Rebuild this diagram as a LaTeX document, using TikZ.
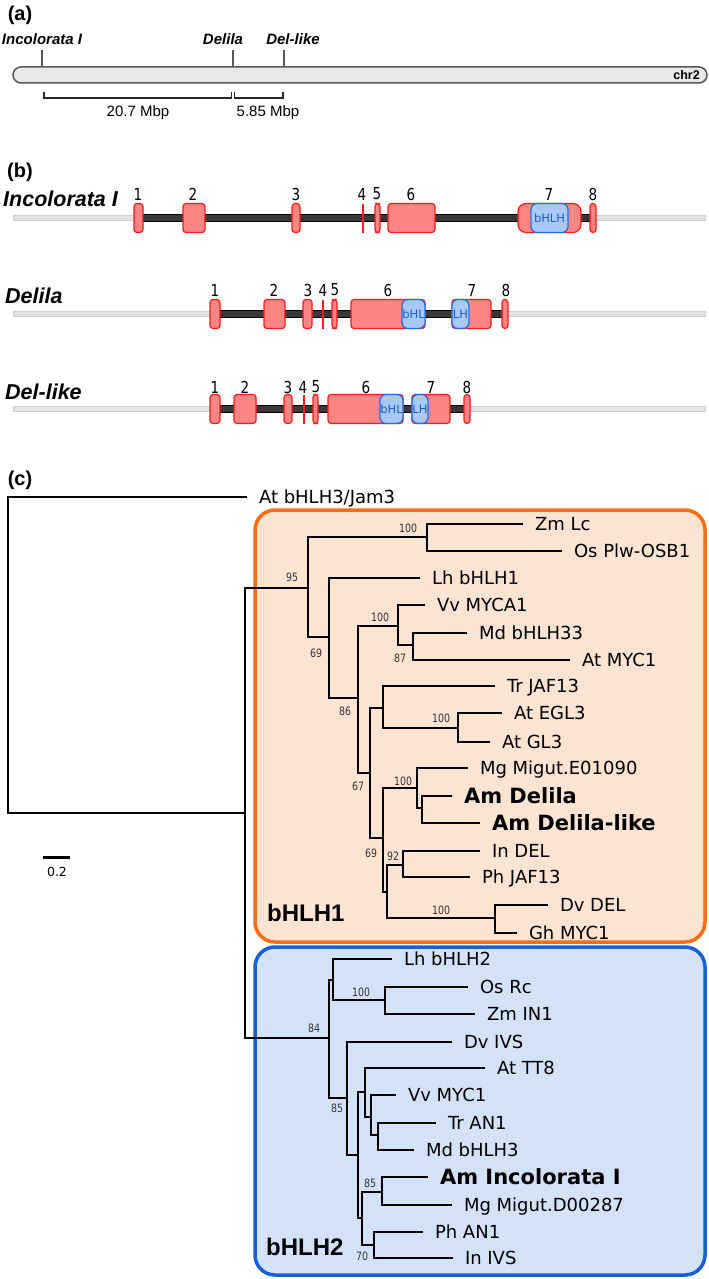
\documentclass[tikz,border=0pt]{standalone}
\usepackage{fontspec}
\setmainfont{DejaVu Sans}
\newfontfamily\arialfont{Liberation Sans}
\newfontfamily\numfont[FakeStretch=0.82]{DejaVu Sans}
\definecolor{exonfill}{HTML}{FF8585}
\definecolor{exonline}{HTML}{FF1A1A}
\definecolor{domfill}{HTML}{A8C8F7}
\definecolor{domline}{HTML}{1F6FE8}
\definecolor{orangeline}{HTML}{FF6B0F}
\definecolor{orangefill}{HTML}{FDE3D1}
\definecolor{blueline}{HTML}{1760D9}
\definecolor{bluefill}{HTML}{D3E2F9}

\begin{document}
\begin{tikzpicture}[x=1pt, y=-1pt,
      panel/.style={font=\arialfont\bfseries\fontsize{20}{22}\selectfont, inner sep=0pt},
      locus/.style={font=\arialfont\bfseries\itshape\fontsize{15}{17}\selectfont, inner sep=0pt},
      row/.style={anchor=west, font=\arialfont\bfseries\itshape\fontsize{21.5}{24}\selectfont, inner sep=0pt},
      mbp/.style={font=\arialfont\fontsize{15}{17}\selectfont, inner sep=0pt},
      num/.style={font=\numfont\fontsize{16.5}{18}\selectfont, inner sep=0pt},
      gline/.style={fill=gray!22, draw=gray!38, line width=0.7pt},
      intron/.style={fill=black!78, draw=black, line width=0.6pt},
      exon/.style={fill=exonfill, draw=exonline, line width=1.2pt, rounded corners=3pt},
      thin/.style={draw=exonline, line width=2pt},
      dom/.style={fill=domfill, draw=domline, line width=1.3pt, rounded corners=6pt},
      domtext/.style={font=\fontsize{11.5}{13}\selectfont, text=domline!85!black, inner sep=0pt},
      br/.style={line width=2pt},
      leaf/.style={anchor=west, inner xsep=12pt, inner ysep=0pt, outer sep=0pt,
        text height=13pt, text depth=0pt, font=\fontsize{18}{20}\selectfont},
      am/.style={leaf, text height=15pt, font=\bfseries\fontsize{21}{24}\selectfont},
      bs/.style={font=\numfont\fontsize{11.5}{13}\selectfont, text=black!80, inner sep=0pt},
      clade/.style={anchor=west, font=\arialfont\bfseries\fontsize{24}{26}\selectfont, inner sep=0pt}]
  \useasboundingbox (0,0) rectangle (709,1279);

  % (a) chromosome
  \node[panel] (pa) at (20,15) {(a)};
  \node[locus] (linc) at (42,39) {Incolorata I};
  \node[locus] (ldel) at (223,39) {Delila};
  \node[locus] (ldl) at (293,39) {Del-like};
  \draw[gray!70!black, line width=2pt] (42,50) -- (42,67) (233,50) -- (233,67) (284,50) -- (284,67);
  \draw[fill=gray!18, draw=gray!70!black, line width=1.5pt, rounded corners=8pt] (13,67) rectangle (707,83);
  \node[anchor=east, font=\arialfont\bfseries\fontsize{12.5}{14}\selectfont, inner sep=0pt] (chr) at (700,75) {chr2};
  \draw[black!85, line width=1.4pt] (44,92) -- (44,98) -- (231.5,98) -- (231.5,92);
  \draw[black!85, line width=1.4pt] (234.5,92) -- (234.5,98) -- (283,98) -- (283,92);
  \node[mbp] (mleft) at (138,113) {20.7 Mbp};
  \node[mbp] (mright) at (268,113) {5.85 Mbp};

  % (b) gene models
  \node[panel] (pb) at (20,172) {(b)};
  \node[row] (rinc) at (3,199) {Incolorata I};
  \node[row] (rdel) at (5,296) {Delila};
  \node[row] (rdl) at (5,392) {Del-like};

  % Incolorata I
  \draw[gline] (13,215.5) rectangle (705,220.5);
  \draw[intron] (143,214.5) rectangle (590,221.5);
  \draw[exon] (134,203.5) rectangle (143,232.5);
  \draw[exon] (183,203.5) rectangle (205,232.5);
  \draw[exon] (292,203.5) rectangle (300,232.5);
  \draw[thin] (362.5,203.5) -- (362.5,232.5);
  \draw[exon] (375,203.5) rectangle (380,232.5);
  \draw[exon] (388,203.5) rectangle (435,232.5);
  \draw[exon, rounded corners=8pt] (518,203.5) rectangle (581,232.5);
  \draw[dom] (531,203.5) rectangle (568,232.5);
  \node[domtext] (dinc) at (549.5,218) {bHLH};
  \draw[exon] (590,203.5) rectangle (596,232.5);
  \node[num] (i1) at (138,194) {1};
  \node[num] (i2) at (193,194) {2};
  \node[num] (i3) at (296,194) {3};
  \node[num] (i4) at (362,194) {4};
  \node[num] (i5) at (377,194) {5};
  \node[num] (i6) at (411,194) {6};
  \node[num] (i7) at (549,194) {7};
  \node[num] (i8) at (593,194) {8};

  % Delila
  \draw[gline] (13,311.5) rectangle (705,316.5);
  \draw[intron] (220,310.5) rectangle (502,317.5);
  \draw[exon] (210,299.5) rectangle (220,328.5);
  \draw[exon] (264,299.5) rectangle (285,328.5);
  \draw[exon] (303,299.5) rectangle (312,328.5);
  \draw[thin] (323,299.5) -- (323,328.5);
  \draw[exon] (332,299.5) rectangle (337,328.5);
  \draw[exon] (351,299.5) rectangle (425,328.5);
  \draw[dom] (402,299.5) rectangle (425,328.5);
  \node[domtext] (ddel1) at (413.5,314) {bHL};
  \draw[exon] (452,299.5) rectangle (491,328.5);
  \draw[dom] (452,299.5) rectangle (469,328.5);
  \node[domtext] (ddel2) at (460.5,314) {LH};
  \draw[exon] (502,299.5) rectangle (508,328.5);
  \node[num] (e1) at (215,290) {1};
  \node[num] (e2) at (274,290) {2};
  \node[num] (e3) at (308,290) {3};
  \node[num] (e4) at (323,290) {4};
  \node[num] (e5) at (335,290) {5};
  \node[num] (e6) at (388,290) {6};
  \node[num] (e7) at (472,290) {7};
  \node[num] (e8) at (506,290) {8};

  % Del-like
  \draw[gline] (13,406.5) rectangle (705,411.5);
  \draw[intron] (220,405.5) rectangle (464,412.5);
  \draw[exon] (210,394.5) rectangle (220,423.5);
  \draw[exon] (234,394.5) rectangle (256,423.5);
  \draw[exon] (284,394.5) rectangle (292,423.5);
  \draw[thin] (303.5,394.5) -- (303.5,423.5);
  \draw[exon] (313,394.5) rectangle (318,423.5);
  \draw[exon] (328,394.5) rectangle (403,423.5);
  \draw[dom] (380,394.5) rectangle (403,423.5);
  \node[domtext] (ddl1) at (391.5,409) {bHL};
  \draw[exon] (412,394.5) rectangle (450,423.5);
  \draw[dom] (412,394.5) rectangle (428,423.5);
  \node[domtext] (ddl2) at (420,409) {LH};
  \draw[exon] (464,394.5) rectangle (470,423.5);
  \node[num] (k1) at (215,387) {1};
  \node[num] (k2) at (245,387) {2};
  \node[num] (k3) at (288,387) {3};
  \node[num] (k4) at (303,387) {4};
  \node[num] (k5) at (316,387) {5};
  \node[num] (k6) at (366,387) {6};
  \node[num] (k7) at (431,387) {7};
  \node[num] (k8) at (467,387) {8};

  % (c) tree
  \node[panel] (pc) at (20,480) {(c)};
  \draw[draw=orangeline, fill=orangefill, line width=3.5pt, rounded corners=20pt] (255,510) rectangle (705,942);
  \draw[draw=blueline, fill=bluefill, line width=3.5pt, rounded corners=20pt] (255,947) rectangle (705,1275);
  \node[clade] (c1) at (267,913) {bHLH1};
  \node[clade] (c2) at (266,1247) {bHLH2};

  \coordinate (root) at (8,655);
  \coordinate (n0) at (245,813);
  \coordinate (n1) at (308,588);
  \coordinate (n2) at (427,537);
  \coordinate (n3) at (329,637);
  \coordinate (n4) at (358,698);
  \coordinate (n5) at (398,626);
  \coordinate (n6) at (413,645);
  \coordinate (n7) at (370,773);
  \coordinate (n8) at (383,708);
  \coordinate (n9) at (458,728);
  \coordinate (n10) at (383,838);
  \coordinate (n11) at (417,788);
  \coordinate (n12) at (422,808);
  \coordinate (n13) at (387,892);
  \coordinate (n14) at (403,865);
  \coordinate (n15) at (495,918);
  \coordinate (m1) at (329,1038);
  \coordinate (m2) at (333,980);
  \coordinate (m3) at (385,1000);
  \coordinate (m4) at (347,1098);
  \coordinate (m5) at (358,1155);
  \coordinate (m6) at (365,1092);
  \coordinate (m7) at (371,1117);
  \coordinate (m8) at (378,1135);
  \coordinate (m9) at (362,1218);
  \coordinate (m10) at (382,1192);
  \coordinate (m11) at (374,1245);

  \node[leaf] (jam3) at (247,497) {At bHLH3/Jam3};
  \node[leaf] (zmlc) at (523,524) {Zm Lc};
  \node[leaf] (osplw) at (562,551) {Os Plw-OSB1};
  \node[leaf] (lh1) at (420,578) {Lh bHLH1};
  \node[leaf] (vvmyca) at (425,605) {Vv MYCA1};
  \node[leaf] (md33) at (467,633) {Md bHLH33};
  \node[leaf] (atmyc) at (570,660) {At MYC1};
  \node[leaf] (trjaf) at (495,686) {Tr JAF13};
  \node[leaf] (egl3) at (502,713) {At EGL3};
  \node[leaf] (gl3) at (490,742) {At GL3};
  \node[leaf] (mge) at (468,768) {Mg Migut.E01090};
  \node[am] (amdel) at (452,796) {Am Delila};
  \node[am] (amdl) at (480,823) {Am Delila-like};
  \node[leaf] (indel) at (480,851) {In DEL};
  \node[leaf] (phjaf) at (470,877) {Ph JAF13};
  \node[leaf] (dvdel) at (548,905) {Dv DEL};
  \node[leaf] (ghmyc) at (517,933) {Gh MYC1};
  \node[leaf] (lh2) at (392,959) {Lh bHLH2};
  \node[leaf] (osrc) at (468,987) {Os Rc};
  \node[leaf] (zmin) at (475,1014) {Zm IN1};
  \node[leaf] (dvivs) at (452,1042) {Dv IVS};
  \node[leaf] (tt8) at (485,1068) {At TT8};
  \node[leaf] (vvmyc) at (396,1095) {Vv MYC1};
  \node[leaf] (tran) at (436,1123) {Tr AN1};
  \node[leaf] (md3) at (414,1150) {Md bHLH3};
  \node[am] (aminc) at (428,1177) {Am Incolorata I};
  \node[leaf] (mgd) at (452,1205) {Mg Migut.D00287};
  \node[leaf] (phan) at (423,1232) {Ph AN1};
  \node[leaf] (inivs) at (453,1258) {In IVS};

  \draw[br] (root) |- (jam3) (root) |- (n0);
  \draw[br] (n0) |- (n1) (n0) |- (m1);
  \draw[br] (n1) |- (n2) (n1) |- (n3);
  \draw[br] (n2) |- (zmlc) (n2) |- (osplw);
  \draw[br] (n3) |- (lh1) (n3) |- (n4);
  \draw[br] (n4) |- (n5) (n4) |- (n7);
  \draw[br] (n5) |- (vvmyca) (n5) |- (n6);
  \draw[br] (n6) |- (md33) (n6) |- (atmyc);
  \draw[br] (n7) |- (n8) (n7) |- (n10);
  \draw[br] (n8) |- (trjaf) (n8) |- (n9);
  \draw[br] (n9) |- (egl3) (n9) |- (gl3);
  \draw[br] (n10) |- (n11) (n10) |- (n13);
  \draw[br] (n11) |- (mge) (n11) |- (n12);
  \draw[br] (n12) |- (amdel) (n12) |- (amdl);
  \draw[br] (n13) |- (n14) (n13) |- (n15);
  \draw[br] (n14) |- (indel) (n14) |- (phjaf);
  \draw[br] (n15) |- (dvdel) (n15) |- (ghmyc);
  \draw[br] (m1) |- (m2) (m1) |- (m4);
  \draw[br] (m2) |- (lh2) (m2) |- (m3);
  \draw[br] (m3) |- (osrc) (m3) |- (zmin);
  \draw[br] (m4) |- (dvivs) (m4) |- (m5);
  \draw[br] (m5) |- (m6) (m5) |- (m9);
  \draw[br] (m6) |- (tt8) (m6) |- (m7);
  \draw[br] (m7) |- (vvmyc) (m7) |- (m8);
  \draw[br] (m8) |- (tran) (m8) |- (md3);
  \draw[br] (m9) |- (m10) (m9) |- (m11);
  \draw[br] (m10) |- (aminc) (m10) |- (mgd);
  \draw[br] (m11) |- (phan) (m11) |- (inivs);

  % support values
  \node[bs] (b1) at (292,577) {95};
  \node[bs] (b2) at (408,528) {100};
  \node[bs] (b3) at (316,653) {69};
  \node[bs] (b4) at (345,711) {86};
  \node[bs] (b5) at (380,617) {100};
  \node[bs] (b6) at (400,658) {87};
  \node[bs] (b7) at (358,786) {67};
  \node[bs] (b8) at (441,718) {100};
  \node[bs] (b9) at (371,853) {69};
  \node[bs] (b10) at (403,781) {100};
  \node[bs] (b11) at (393,856) {92};
  \node[bs] (b12) at (441,910) {100};
  \node[bs] (b13) at (314,1028) {84};
  \node[bs] (b14) at (361,992) {100};
  \node[bs] (b15) at (337,1108) {85};
  \node[bs] (b16) at (370,1183) {85};
  \node[bs] (b17) at (362,1256) {70};

  % scale bar
  \draw[line width=3pt] (43,857) -- (70,857);
  \node[font=\fontsize{12.5}{14}\selectfont, inner sep=0pt] (sc) at (57,872) {0.2};
\end{tikzpicture}
\end{document}
